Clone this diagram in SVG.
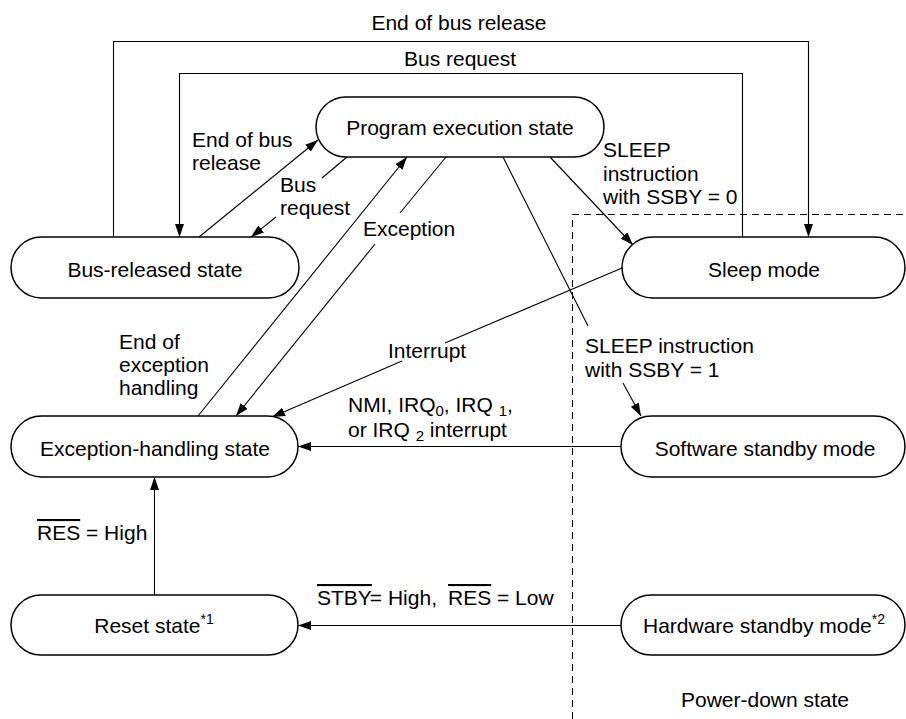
<svg xmlns="http://www.w3.org/2000/svg" width="906" height="719" viewBox="0 0 906 719">
<defs>
<marker id="arr" markerUnits="userSpaceOnUse" markerWidth="13" markerHeight="9" refX="13" refY="4.5" orient="auto">
<path d="M0,0 L13,4.5 L0,9 z" fill="#000"/>
</marker>
<style>
text{font-family:"Liberation Sans",Arial,sans-serif;font-size:21px;fill:#000}
.node rect{fill:#fff;stroke:#000;stroke-width:1.5}
.node text{text-anchor:middle}
.c line,.c polyline{stroke:#000;stroke-width:1.1;fill:none}
.sub{font-size:15px}
.sup{font-size:14px}
.ov{text-decoration:overline}
</style>
</defs>
<rect width="906" height="719" fill="#fff"/>
<path d="M572.5,719 V214.5 H906" fill="none" stroke="#000" stroke-width="1" stroke-dasharray="7,5"/>
<g class="c" id="connectors">
<polyline points="113.5,237 113.5,41.5 808.5,41.5 808.5,237" marker-end="url(#arr)"/>
<polyline points="742.5,237 742.5,73.5 179.5,73.5 179.5,237" marker-end="url(#arr)"/>
<line x1="199" y1="237" x2="318" y2="140" marker-end="url(#arr)"/>
<line x1="347" y1="157" x2="322" y2="178"/>
<line x1="276" y1="217" x2="251" y2="237" marker-end="url(#arr)"/>
<line x1="446" y1="157" x2="400" y2="213"/>
<line x1="375" y1="244" x2="236" y2="416" marker-end="url(#arr)"/>
<line x1="198" y1="416" x2="407" y2="157" marker-end="url(#arr)"/>
<line x1="550" y1="157" x2="633" y2="245" marker-end="url(#arr)"/>
<line x1="503" y1="157" x2="588" y2="326"/>
<line x1="623" y1="383" x2="641" y2="416" marker-end="url(#arr)"/>
<line x1="622" y1="268" x2="445" y2="343"/>
<line x1="402" y1="361" x2="272" y2="417" marker-end="url(#arr)"/>
<line x1="621" y1="446.5" x2="298" y2="446.5" marker-end="url(#arr)"/>
<line x1="154.5" y1="595" x2="154.5" y2="477" marker-end="url(#arr)"/>
<line x1="621" y1="625.5" x2="298" y2="625.5" marker-end="url(#arr)"/>
</g>
<g id="labels">
<text x="459" y="30" text-anchor="middle">End of bus release</text>
<text x="460" y="66" text-anchor="middle">Bus request</text>
<text x="192" y="147">End of bus</text>
<text x="192" y="170">release</text>
<text x="280" y="192">Bus</text>
<text x="280" y="215">request</text>
<text x="363" y="236">Exception</text>
<text x="119" y="349">End of</text>
<text x="119" y="372">exception</text>
<text x="119" y="395">handling</text>
<text x="603" y="157">SLEEP</text>
<text x="603" y="181">instruction</text>
<text x="603" y="204">with SSBY = 0</text>
<text x="388" y="358">Interrupt</text>
<text x="585" y="353">SLEEP instruction</text>
<text x="585" y="377">with SSBY = 1</text>
<text x="348" y="412">NMI, IRQ<tspan class="sub" dy="4">0</tspan><tspan dy="-4">, IRQ </tspan><tspan class="sub" dy="4">1</tspan><tspan dy="-4">,</tspan></text>
<text x="348" y="437">or IRQ <tspan class="sub" dy="4">2</tspan><tspan dy="-4"> interrupt</tspan></text>
<text x="37" y="540"><tspan class="ov">RES</tspan> = High</text>
<text x="317" y="605"><tspan class="ov">STBY</tspan><tspan dx="-2">= High,</tspan><tspan dx="11" class="ov">RES</tspan> = Low</text>
<text x="765" y="707" text-anchor="middle">Power-down state</text>
</g>
<g class="node" id="program"><rect x="316" y="97" width="288" height="60" rx="30"/><text x="460" y="135">Program execution state</text></g>
<g class="node" id="busreleased"><rect x="11" y="237" width="288" height="61" rx="30.5"/><text x="155" y="277">Bus-released state</text></g>
<g class="node" id="sleep"><rect x="622" y="237" width="283" height="61" rx="30.5"/><text x="764" y="277">Sleep mode</text></g>
<g class="node" id="exception"><rect x="11" y="416" width="287" height="61" rx="30.5"/><text x="155" y="456">Exception-handling state</text></g>
<g class="node" id="swstandby"><rect x="621" y="416" width="284" height="61" rx="30.5"/><text x="765" y="456">Software standby mode</text></g>
<g class="node" id="reset"><rect x="11" y="595" width="287" height="60" rx="30"/><text x="154" y="633">Reset state<tspan class="sup" dy="-9">*1</tspan></text></g>
<g class="node" id="hwstandby"><rect x="621" y="595" width="284" height="60" rx="30"/><text x="764" y="633">Hardware standby mode<tspan class="sup" dy="-9">*2</tspan></text></g>
</svg>
